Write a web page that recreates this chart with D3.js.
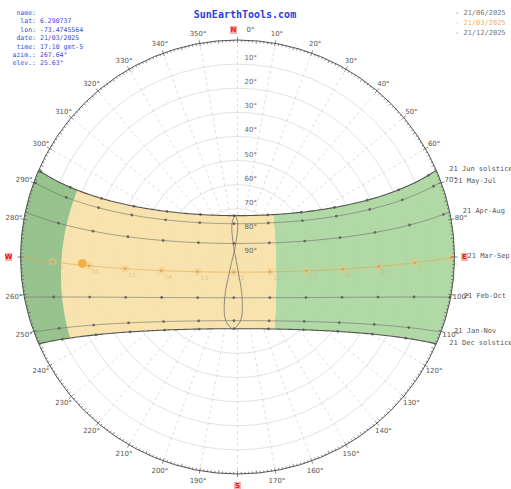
<!DOCTYPE html>
<html>
<head>
<meta charset="utf-8">
<script src="https://cdn.jsdelivr.net/npm/d3@7"></script>
<style>
body { margin: 0; background: #fff; }
svg { display: block; }
</style>
</head>
<body>
<div id="chart"></div>
<script>
// site data
const lat = 6.290737;
const lonShiftMin = 6.1; // lon -73.47 vs gmt-5 meridian
const sunAz = 267.64, sunEl = 25.63;

const infoLabels = ["name:", "lat:", "lon:", "date:", "time:", "azim.:", "elev.:"];
const infoValues = ["", "6.290737", "-73.4745564", "21/03/2025", "17:10 gmt-5", "267.64°", "25.63°"];

// sun paths (21st of the month)
const pathNames = ["21 Jun  solstice", "21 May-Jul", "21 Apr-Aug", "21 Mar-Sep", "21 Feb-Oct", "21 Jan-Nov", "21 Dec  solstice"];
const pathDecl = [23.44, 20.1, 11.9, 0, -10.6, -20.1, -23.44];
const todayIdx = 3;

const legendDates = ["21/06/2025", "21/03/2025", "21/12/2025"];
const legendColors = ["#777", "#f2b060", "#777"];

// analemma at 12:00 (declination, equation of time in minutes), Jan..Dec
const anaDecl = [-20.1, -10.6, 0.1, 11.9, 20.1, 23.44, 20.5, 12.2, 0.5, -10.9, -19.9, -23.44];
const anaEot = [-11.2, -13.8, -7.4, 1.2, 3.5, -1.6, -6.3, -3.4, 6.9, 15.3, 14.1, 2.0];

const elevTicks = [10, 20, 30, 40, 50, 60, 70, 80, 90];
const azTicks = d3.range(0, 360, 10);
const hours = d3.range(5, 20);

// highlighted hour-angle window (yellow)
const yellowH = [-16, 73];

const W = 511, H = 489;
const cx = 237.5, cy = 257, R = 217;

const rad = Math.PI / 180;
const r = d3.scaleLinear().domain([90, 0]).range([0, R]);

function proj(az, el) {
    const rr = r(Math.max(el, 0));
    return [cx + rr * Math.sin(az * rad), cy - rr * Math.cos(az * rad)];
}

// hour angle + declination -> azimuth / elevation
function sunPos(dec, h) {
    const d = dec * rad, ha = h * rad, p = lat * rad;
    const east = -Math.cos(d) * Math.sin(ha);
    const north = Math.cos(p) * Math.sin(d) - Math.sin(p) * Math.cos(d) * Math.cos(ha);
    const up = Math.sin(p) * Math.sin(d) + Math.cos(p) * Math.cos(d) * Math.cos(ha);
    return { az: Math.atan2(east, north) / rad, el: Math.asin(Math.max(-1, Math.min(1, up))) / rad };
}
const pt = (dec, h) => { const s = sunPos(dec, h); return proj(s.az, s.el); };
const H0 = dec => Math.acos(-Math.tan(lat * rad) * Math.tan(dec * rad)) / rad;

const svg = d3.select("#chart").append("svg").attr("width", W).attr("height", H);

// grid
svg.append("g").selectAll("circle")
    .data(elevTicks.slice(0, -1))
    .join("circle")
    .attr("cx", cx).attr("cy", cy).attr("r", d => r(d))
    .attr("fill", "none").attr("stroke", "#e2e2e2").attr("stroke-width", 1);

svg.append("g").selectAll("line")
    .data(azTicks)
    .join("line")
    .attr("x1", cx).attr("y1", cy)
    .attr("x2", d => proj(d, 0)[0]).attr("y2", d => proj(d, 0)[1])
    .attr("stroke", "#d4d4d4").attr("stroke-dasharray", "3,3").attr("stroke-width", 0.8);

// band between the solstices, split by hour angle
const decTop = d3.max(pathDecl), decBot = d3.min(pathDecl);
function region(hFrom, hTo) {
    const pts = [];
    const decs = d3.range(decTop, decBot, -0.5).concat([decBot]);
    const seg = (dec, a, b) => {
        const n = Math.max(2, Math.ceil(Math.abs(b - a)));
        for (let i = 0; i <= n; i++) pts.push(pt(dec, a + (b - a) * i / n));
    };
    seg(decTop, hFrom(decTop), hTo(decTop));
    decs.forEach(d => pts.push(pt(d, hTo(d))));
    seg(decBot, hTo(decBot), hFrom(decBot));
    decs.slice().reverse().forEach(d => pts.push(pt(d, hFrom(d))));
    return pts;
}
const area = d3.line();
const bands = [
    { from: d => -H0(d), to: () => yellowH[0], fill: "#a9d59b" },
    { from: () => yellowH[0], to: () => yellowH[1], fill: "#f7dfa4" },
    { from: () => yellowH[1], to: d => H0(d), fill: "#8dbb82" }
];
svg.append("g").selectAll("path")
    .data(bands)
    .join("path")
    .attr("d", b => area(region(b.from, b.to)) + "Z")
    .attr("fill", b => b.fill).attr("fill-opacity", 0.9);

// sun paths
const lineGen = d3.line();
const pathG = svg.append("g");
pathDecl.forEach((dec, i) => {
    const h0 = H0(dec);
    const pts = d3.range(-h0, h0, 1).concat([h0]).map(h => pt(dec, h));
    const edge = i === 0 || i === pathDecl.length - 1;
    pathG.append("path")
        .attr("d", lineGen(pts))
        .attr("fill", "none")
        .attr("stroke", i === todayIdx ? "#e9a040" : edge ? "#444" : "#666")
        .attr("stroke-width", edge ? 1.1 : 0.8)
        .attr("stroke-opacity", edge ? 0.9 : 0.7);
    // hour marks
    hours.forEach(hr => {
        const ha = 15 * (hr - 12) + lonShiftMin / 4;
        if (Math.abs(ha) >= h0) return;
        const p = pt(dec, ha);
        pathG.append("circle").attr("cx", p[0]).attr("cy", p[1]).attr("r", 1.4)
            .attr("fill", i === todayIdx ? "#c98a30" : "#555").attr("fill-opacity", 0.8);
    });
    // label at sunrise
    const rise = pt(dec, -h0);
    svg.append("text")
        .attr("x", rise[0] + 13).attr("y", rise[1] + 1)
        .attr("font-family", "DejaVu Sans Mono").attr("font-size", 7)
        .attr("fill", "#555")
        .text(pathNames[i]);
});

// today's hour markers
hours.forEach(hr => {
    const ha = 15 * (hr - 12) + lonShiftMin / 4;
    if (Math.abs(ha) >= H0(pathDecl[todayIdx])) return;
    const p = pt(pathDecl[todayIdx], ha);
    svg.append("circle").attr("cx", p[0]).attr("cy", p[1]).attr("r", 4)
        .attr("fill", "#f2c680").attr("fill-opacity", 0.35);
    svg.append("text").attr("x", p[0] + 3).attr("y", p[1] + 8)
        .attr("font-family", "DejaVu Sans").attr("font-size", 6)
        .attr("fill", "#d9a560").attr("fill-opacity", 0.5)
        .text(hr);
});

// analemma
const anaPts = anaDecl.map((d, i) => pt(d, (lonShiftMin + anaEot[i]) / 4));
svg.append("path")
    .attr("d", d3.line().curve(d3.curveCatmullRomClosed)(anaPts))
    .attr("fill", "none").attr("stroke", "#666").attr("stroke-width", 0.7);

// current sun
const sp = proj(sunAz, sunEl);
svg.append("circle").attr("cx", sp[0]).attr("cy", sp[1]).attr("r", 4.5)
    .attr("fill", "#f0a838").attr("fill-opacity", 0.85);

// elevation labels
svg.append("g").selectAll("text")
    .data(elevTicks)
    .join("text")
    .attr("x", cx + 7).attr("y", d => cy - r(d) - 4)
    .attr("font-family", "DejaVu Sans").attr("font-size", 7)
    .attr("fill", "#666")
    .text(d => d + "°");

// horizon circle + ticks
svg.append("circle").attr("cx", cx).attr("cy", cy).attr("r", R)
    .attr("fill", "none").attr("stroke", "#555").attr("stroke-width", 1);
svg.append("g").selectAll("line")
    .data(d3.range(0, 360, 1))
    .join("line")
    .each(function (a) {
        const big = a % 10 === 0, mid = a % 5 === 0;
        const r1 = big ? R - 3 : R - (mid ? 3 : 2), r2 = big ? R + 3 : R;
        d3.select(this)
            .attr("x1", cx + r1 * Math.sin(a * rad)).attr("y1", cy - r1 * Math.cos(a * rad))
            .attr("x2", cx + r2 * Math.sin(a * rad)).attr("y2", cy - r2 * Math.cos(a * rad));
    })
    .attr("stroke", "#555").attr("stroke-width", 0.7);

// azimuth labels
const RL = R + 10;
svg.append("g").selectAll("text")
    .data(azTicks.filter(a => a % 90 !== 0 || a === 0))
    .join("text")
    .attr("x", a => a === 0 ? cx + 13 : cx + RL * Math.sin(a * rad))
    .attr("y", a => cy - RL * Math.cos(a * rad))
    .attr("dy", "0.35em")
    .attr("text-anchor", "middle")
    .attr("font-family", "DejaVu Sans").attr("font-size", 7)
    .attr("fill", "#555")
    .text(a => a + "°");

// cardinal points
const cardinals = [["N", 0], ["E", 90], ["S", 180], ["W", 270]];
const cg = svg.append("g").selectAll("g")
    .data(cardinals)
    .join("g")
    .attr("transform", d => {
        const rr = d[0] === "E" ? R + 10 : d[0] === "W" ? R + 12 : R + 10;
        const x = cx + rr * Math.sin(d[1] * rad) + (d[0] === "N" ? -4 : 0);
        const y = cy - rr * Math.cos(d[1] * rad) + (d[0] === "S" ? 2 : 0);
        return `translate(${x},${y})`;
    });
cg.append("rect").attr("x", -3.5).attr("y", -4).attr("width", 7).attr("height", 8)
    .attr("fill", "#f7b0b0");
cg.append("text").attr("text-anchor", "middle").attr("dy", "0.35em")
    .attr("font-family", "DejaVu Sans").attr("font-weight", "bold").attr("font-size", 7)
    .attr("fill", "#e02020")
    .text(d => d[0]);

// title
svg.append("text").attr("x", 245).attr("y", 18).attr("text-anchor", "middle")
    .attr("font-family", "DejaVu Sans Mono").attr("font-weight", "bold").attr("font-size", 10)
    .attr("fill", "#2a3ee0")
    .text("SunEarthTools.com");

// info block
const info = svg.append("g").attr("font-family", "DejaVu Sans Mono").attr("font-size", 6.5).attr("fill", "#3a4ae0");
infoLabels.forEach((l, i) => {
    info.append("text").attr("x", 36).attr("y", 15 + i * 8.4).attr("text-anchor", "end").text(l);
    info.append("text").attr("x", 40).attr("y", 15 + i * 8.4).text(infoValues[i]);
});

// legend
legendDates.forEach((d, i) => {
    svg.append("text").attr("x", 455).attr("y", 15 + i * 10)
        .attr("font-family", "DejaVu Sans Mono").attr("font-size", 7)
        .attr("fill", legendColors[i])
        .text("- " + d);
});
</script>
</body>
</html>
